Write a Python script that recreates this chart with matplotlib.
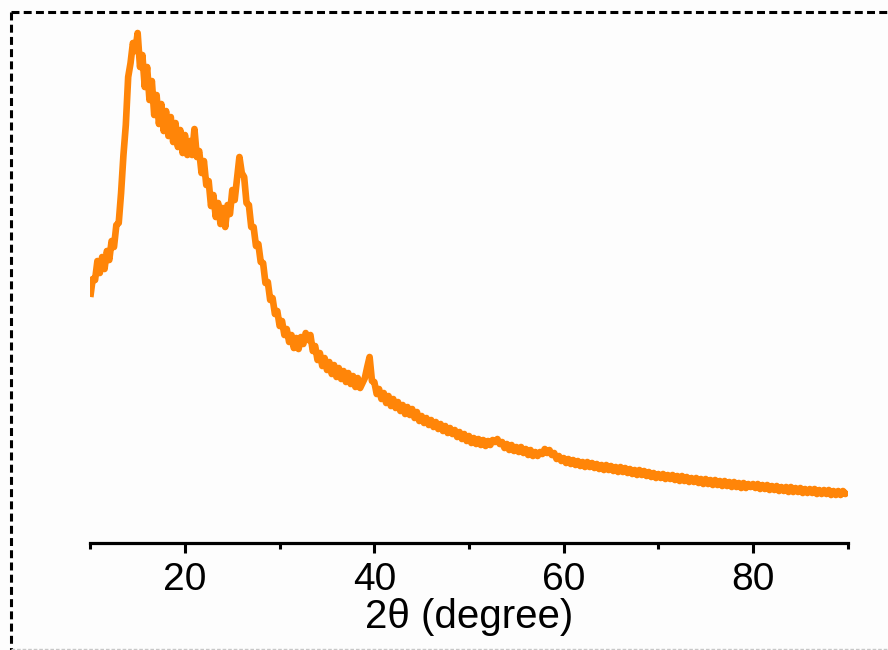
import numpy as np
import matplotlib
matplotlib.use("Agg")
import matplotlib.pyplot as plt
from matplotlib.lines import Line2D

plt.rcParams['font.family'] = ['Liberation Sans', 'DejaVu Sans']

# XRD scan, 2theta from 10 to 90 deg in 0.25 deg steps (intensity in a.u.)
two_theta_start = 10.0
two_theta_end = 90.0

intensity = [
    # 10.00 - 13.00
    246, 264, 263, 282, 270, 286, 274, 292, 283, 302, 296, 318, 320,
    # 13.25 - 15.25 (main broad peak)
    350, 388, 418, 466, 480, 500, 492, 510, 476,
    # 15.50 - 20.50
    488, 456, 476, 443, 462, 428, 448, 419, 439, 412,
    432, 407, 426, 401, 420, 396, 413, 390, 408, 388, 402,
    # 20.75 - 45.00
    388, 414, 386, 392, 370, 382, 358, 362, 337, 348,
    326, 340, 319, 335, 316, 338, 329, 353, 343, 365,
    386, 370, 366, 340, 338, 316, 316, 297, 299, 281,
    280, 260, 261, 243, 245, 229, 232, 217, 222, 208,
    214, 201, 208, 195, 205, 194, 206, 199, 210, 203,
    208, 192, 197, 183, 190, 177, 185, 173, 181, 169,
    178, 166, 175, 164, 172, 161, 170, 159, 167, 156,
    165, 155, 160, 165, 176, 186, 162, 161, 149, 154,
    144, 150, 140, 147, 137, 144, 135, 141, 132, 138,
    129, 136, 128, 134, 125, 131, 122, 127,
    # 45.25 - 50.00
    120, 125, 118, 123, 116, 121, 114, 119, 112, 117,
    110, 115, 109, 113, 106, 111, 104, 109, 102, 107,
    # 50.25 - 55.00
    100, 105, 99, 104, 98, 103, 97, 102, 98, 103,
    101, 104, 99, 101, 95, 99, 93, 98, 92, 96,
    # 55.25 - 60.00
    91, 96, 90, 94, 88, 93, 87, 91, 87, 91,
    89, 94, 90, 93, 88, 90, 84, 87, 82, 85,
    # 60.25 - 70.00
    80, 84, 79, 83, 78, 82, 77, 81, 76, 81,
    76, 80, 75, 79, 74, 78, 73, 78, 73, 77,
    72, 76, 71, 76, 71, 75, 70, 74, 69, 73,
    68, 73, 68, 72, 67, 71, 66, 70, 65, 69,
    # 70.25 - 80.00
    65, 69, 64, 68, 64, 68, 63, 67, 62, 67,
    62, 66, 61, 65, 61, 65, 60, 64, 59, 64,
    59, 63, 58, 63, 58, 62, 57, 62, 57, 61,
    56, 61, 56, 60, 55, 60, 55, 59, 56, 59,
    # 80.25 - 90.00
    55, 59, 54, 58, 54, 58, 53, 57, 53, 57,
    52, 56, 52, 56, 51, 56, 51, 55, 51, 55,
    50, 54, 50, 54, 50, 54, 49, 53, 49, 53,
    49, 53, 48, 52, 48, 52, 48, 52, 49, 52,
]

two_theta = np.linspace(two_theta_start, two_theta_end, len(intensity))

major_ticks = [20, 40, 60, 80]
minor_ticks = [10, 30, 50, 70, 90]

fig = plt.figure(figsize=(8.88, 6.5), dpi=100)
fig.patch.set_facecolor('#fdfdfd')
ax = fig.add_axes([0.1017, 0.1646, 0.8529, 0.8046])
ax.set_facecolor('none')

ax.plot(two_theta, intensity, color='#ff8508', lw=4.8, solid_joinstyle='round',
        solid_capstyle='butt')

ax.set_xlim(two_theta_start, two_theta_end)
ax.set_ylim(0, 523)

for side in ['left', 'right', 'top']:
    ax.spines[side].set_visible(False)
ax.spines['bottom'].set_linewidth(2.3)
ax.set_yticks([])

ax.set_xticks(major_ticks)
ax.set_xticks(minor_ticks, minor=True)
ax.tick_params(axis='x', which='major', direction='out', length=7.5, width=2.2,
               labelsize=28, pad=6)
ax.tick_params(axis='x', which='minor', direction='out', length=4.5, width=2.2)
ax.set_xlabel('2θ (degree)', fontsize=29, labelpad=0)

# dashed frame around the panel
dash = (0, (2.6, 1.4))
fig.add_artist(Line2D([11 / 888, 1.0], [1 - 12 / 650, 1 - 12 / 650],
                      transform=fig.transFigure, color='black', lw=2.2, linestyle=dash))
fig.add_artist(Line2D([11 / 888, 11 / 888], [1 - 12 / 650, 0.0],
                      transform=fig.transFigure, color='black', lw=2.2, linestyle=dash))
fig.add_artist(Line2D([11 / 888, 1.0], [1 / 650, 1 / 650],
                      transform=fig.transFigure, color='#c8c8c8', lw=1.0, linestyle=dash))

fig.savefig('out.png', dpi=100, facecolor=fig.get_facecolor())
